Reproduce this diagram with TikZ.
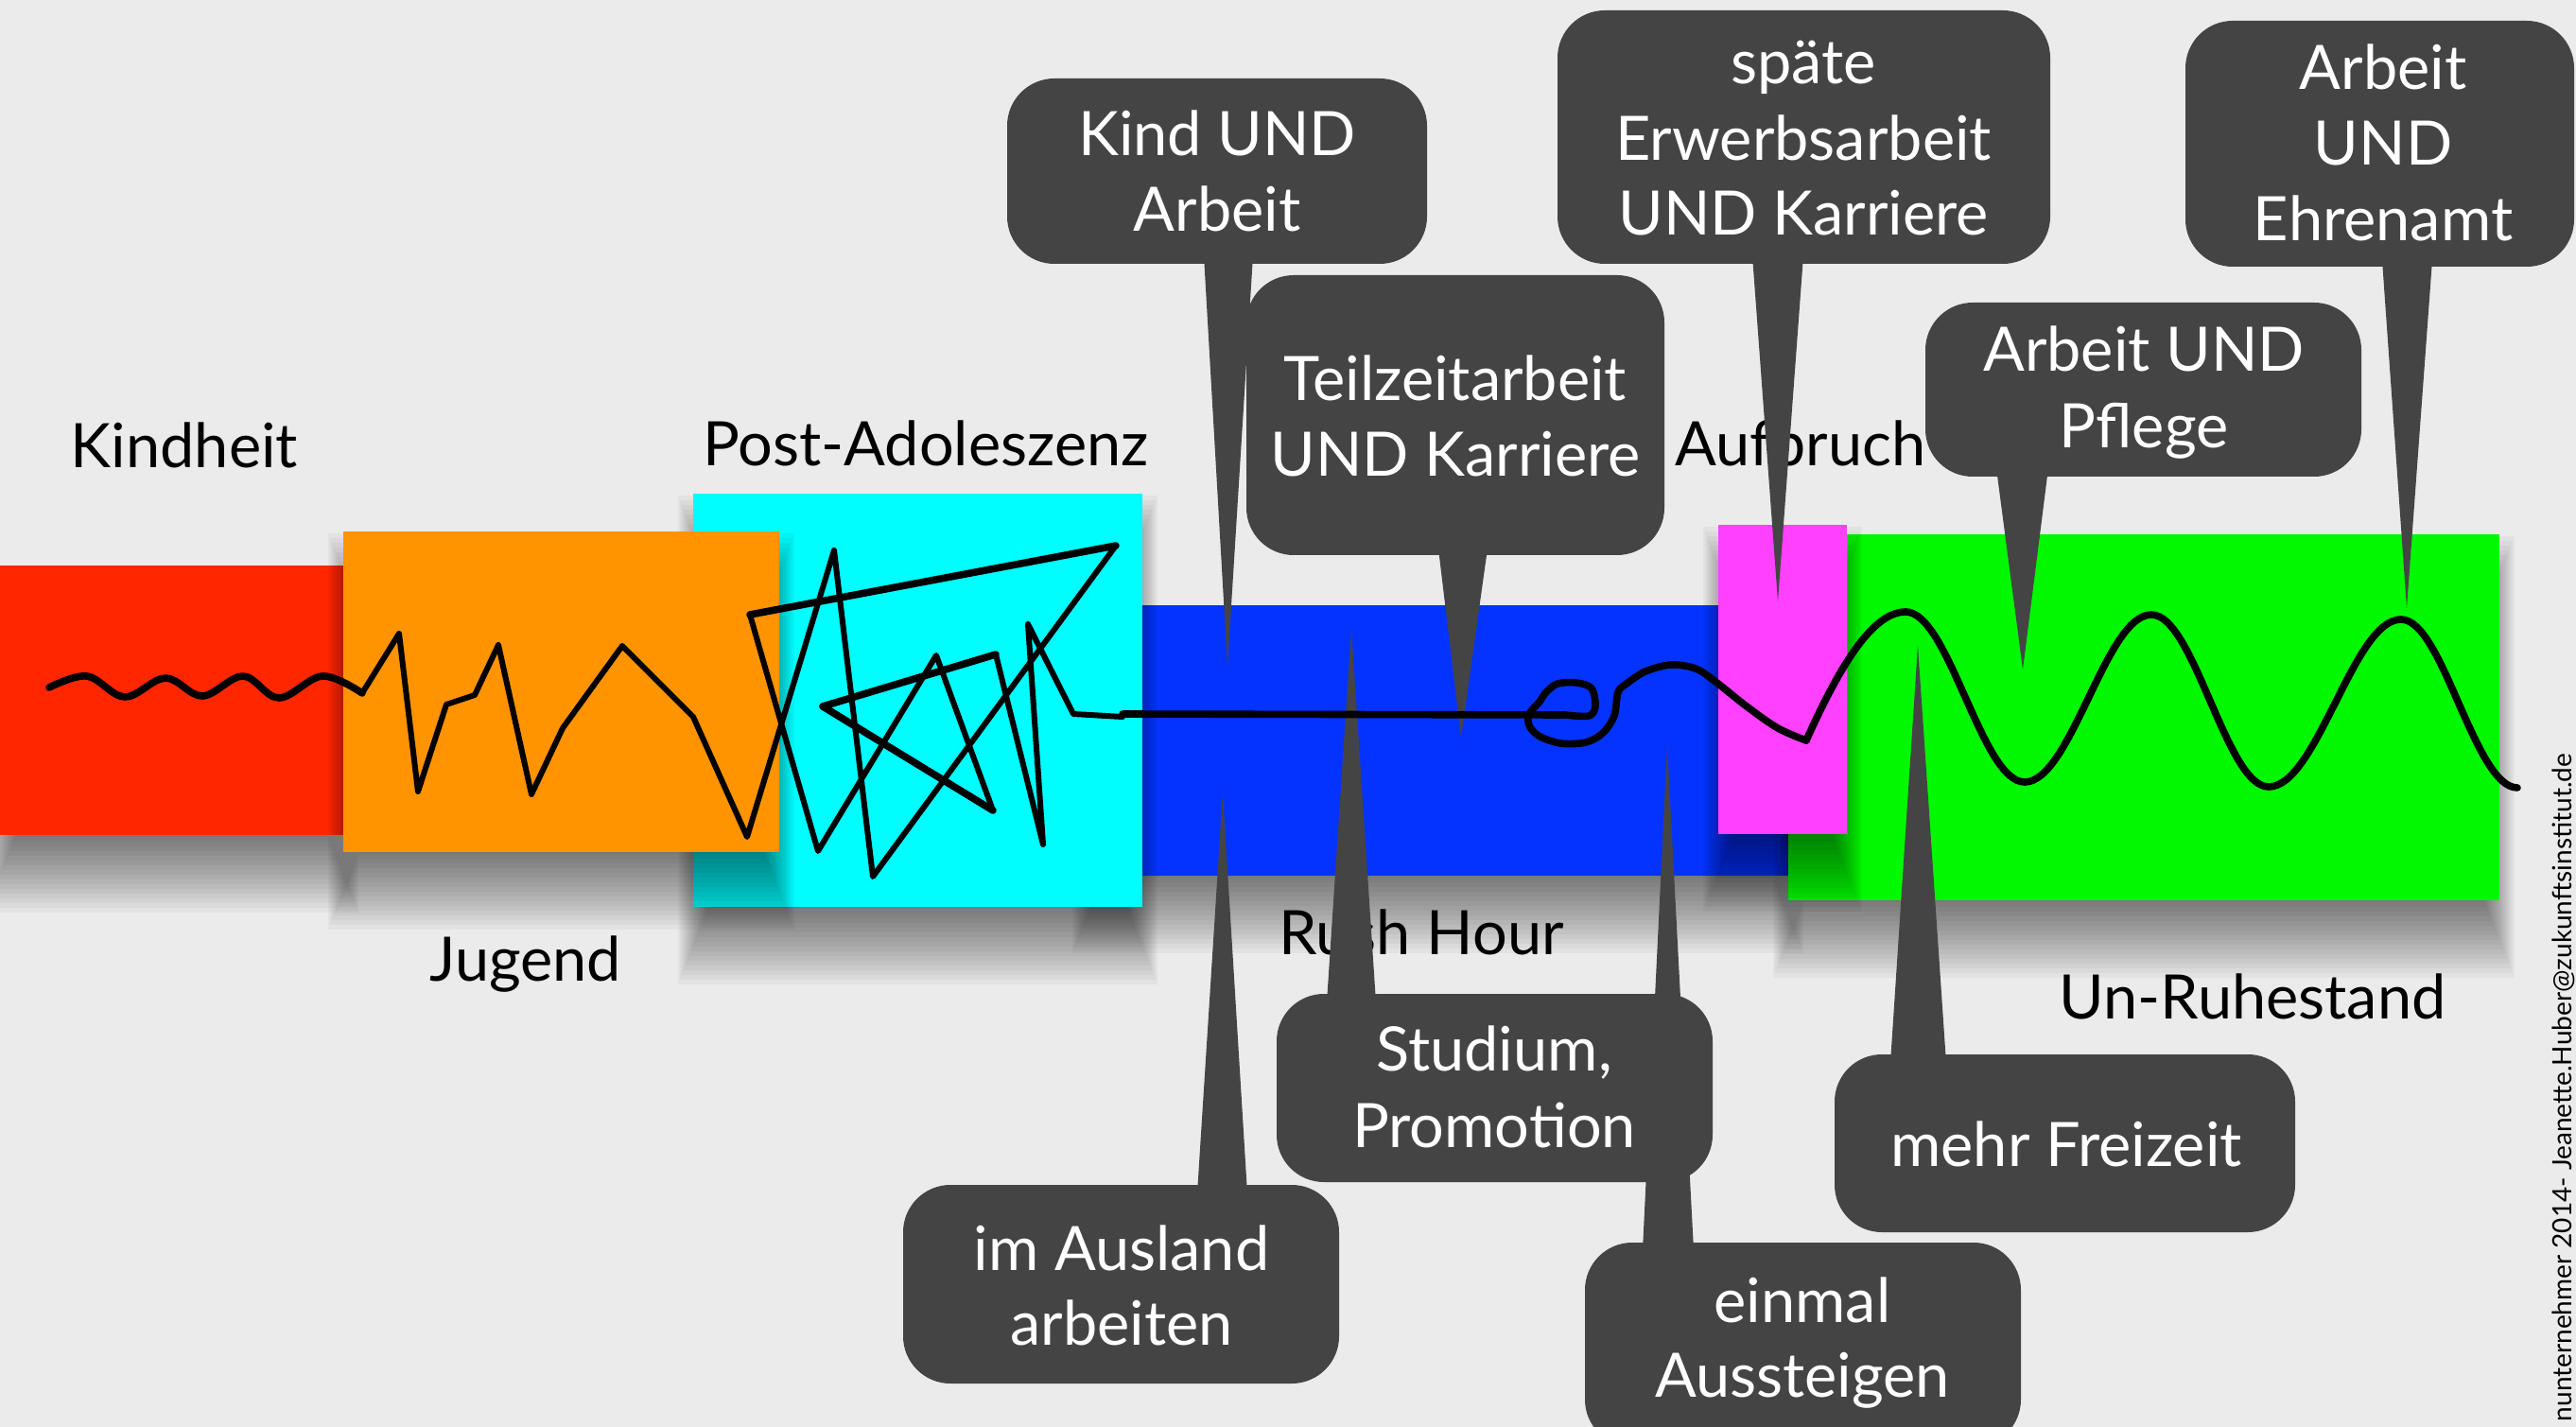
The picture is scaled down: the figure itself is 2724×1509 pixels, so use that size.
\documentclass[tikz,border=0pt]{standalone}
\usepackage{fontspec}
\setmainfont{Lato}
\definecolor{bgc}{HTML}{EBEBEB}
\definecolor{cred}{HTML}{FF2600}
\definecolor{corange}{HTML}{FF9300}
\definecolor{ccyan}{HTML}{00FDFF}
\definecolor{cblue}{HTML}{0433FF}
\definecolor{cpink}{HTML}{FF40FF}
\definecolor{cgreen}{HTML}{00F900}
\definecolor{bubblec}{HTML}{444444}
\tikzset{
 shadowlayer/.style={fill=black, fill opacity=0.036},
 bub/.style={fill=bubblec, rounded corners=12.5pt},
 tailshape/.style={fill=bubblec},
 btxt/.style={text=white, font=\fontsize{16.2}{20}\selectfont, anchor=base, inner sep=0pt},
 ltxt/.style={text=black, font=\fontsize{16.2}{20}\selectfont, anchor=base, inner sep=0pt},
 life/.style={draw=black, line width=1.5pt, line join=round, line cap=round},
 lifethick/.style={draw=black, line width=1.9pt, line join=round, line cap=round},
}
% phase block with a soft drop shadow: #1 colour, (#2,#3) top left, (#4,#5) bottom right
\newcommand{\phaseblock}[5]{%
  \foreach \e in {-40,-35,...,40} {%
    \fill[shadowlayer] ({#2-0.4*\e},{#3-\e+42}) rectangle ({#4+0.4*\e},{#5+\e+42});}
  \fill[#1] (#2,#3) rectangle (#4,#5);}
\begin{document}
\begin{tikzpicture}[x=0.25pt,y=-0.25pt]
\useasboundingbox (0,0) rectangle (2724,1509);
\begin{scope}
\clip (0,0) rectangle (2724,1509);
\fill[bgc] (0,0) rectangle (2724,1509);
% phases
\phaseblock{cblue}{1150}{640}{1891}{926}
\phaseblock{cgreen}{1891}{565}{2643}{952}
\phaseblock{cred}{0}{598}{363}{883}
\phaseblock{ccyan}{733}{522}{1208}{959}
\phaseblock{corange}{363}{562}{824}{901}
\phaseblock{cpink}{1817}{555}{1953}{882}
% phase labels
\node[ltxt] (kindheit) at (195,495) {Kindheit};
\node[ltxt] (jugend) at (556,1037) {Jugend};
\node[ltxt] (postado) at (979,493) {Post-Adoleszenz};
\node[ltxt] (rush) at (1503,1009) {Rush Hour};
\node[ltxt] (aufbruch) at (1904,493) {Aufbruch};
\node[ltxt] (unruhe) at (2382,1077) {Un-Ruhestand};
% callouts: tails
\fill[tailshape] (1273,270) -- (1325,270) -- (1298,705) -- cycle;
\fill[tailshape] (1521,580) -- (1573,580) -- (1545,780) -- cycle;
\fill[tailshape] (1853,270) -- (1907,270) -- (1880,636) -- cycle;
\fill[tailshape] (2519,275) -- (2572,275) -- (2545,643) -- cycle;
\fill[tailshape] (2111,495) -- (2166,495) -- (2139,708) -- cycle;
\fill[tailshape] (1266,1262) -- (1319,1262) -- (1293,838) -- cycle;
\fill[tailshape] (1403,1060) -- (1455,1060) -- (1429,665) -- cycle;
\fill[tailshape] (1737,1322) -- (1791,1322) -- (1763,788) -- cycle;
\fill[tailshape] (1999,1124) -- (2058,1124) -- (2028,683) -- cycle;
% callouts: boxes
\path[bub] (1065,83) rectangle (1509,279);
\path[bub] (1318,291) rectangle (1760,587);
\path[bub] (1647,11) rectangle (2168,279);
\path[bub] (2311,22) rectangle (2722,282);
\path[bub] (2036,320) rectangle (2497,504);
\path[bub] (955,1253) rectangle (1416,1463);
\path[bub] (1350,1051) rectangle (1811,1250);
\path[bub] (1676,1314) rectangle (2137,1530);
\path[bub] (1940,1115) rectangle (2427,1303);
% callout texts
\node[btxt] (kind1) at (1287,165) {Kind UND};
\node[btxt] (kind2) at (1287,245) {Arbeit};
\node[btxt] (teil1) at (1539,424) {Teilzeitarbeit};
\node[btxt] (teil2) at (1539,503) {UND Karriere};
\node[btxt] (spaet1) at (1907,89) {späte};
\node[btxt] (spaet2) at (1907,170) {Erwerbsarbeit};
\node[btxt] (spaet3) at (1907,249) {UND Karriere};
\node[btxt] (ehren1) at (2520,95) {Arbeit};
\node[btxt] (ehren2) at (2520,175) {UND};
\node[btxt] (ehren3) at (2520,255) {Ehrenamt};
\node[btxt] (pfl1) at (2267,393) {Arbeit UND};
\node[btxt] (pfl2) at (2267,473) {Pflege};
\node[btxt] (ausl1) at (1186,1343) {im Ausland};
\node[btxt] (ausl2) at (1186,1422) {arbeiten};
\node[btxt] (stud1) at (1580,1132) {Studium,};
\node[btxt] (stud2) at (1580,1213) {Promotion};
\node[btxt] (einm1) at (1906,1398) {einmal};
\node[btxt] (einm2) at (1906,1477) {Aussteigen};
\node[btxt] (frei) at (2185,1233) {mehr Freizeit};
% the life line
\draw[lifethick] plot[smooth, tension=0.6] coordinates {(52,727) (92,715) (132,737) (175,717) (214,736) (257,715) (295,738) (341,715) (383,733)};
\draw[life] (383,733) -- (422,670) -- (442,837) -- (472,745) -- (502,735) -- (527,682) -- (562,840) -- (595,770) -- (658,683) -- (733,758) -- (790,885) -- (882,582) -- (923,927) -- (1180,577) -- (793,650) -- (865,900) -- (990,693) -- (1050,857) -- (870,747) -- (1053,692) -- (1103,893) -- (1087,660) -- (1135,755) -- (1187,758);
\draw[lifethick] (1180,577) -- (793,650);
\draw[lifethick] (1050,857) -- (870,747) -- (1053,692);
\draw[lifethick] (1187,755) -- (1655,756);
\draw[lifethick] plot[smooth, tension=0.55] coordinates {(1655,756) (1680,757) (1687,747) (1683,728) (1667,722) (1647,723) (1635,732) (1628,742) (1617,755) (1617,767) (1627,778) (1650,786) (1677,785) (1695,775) (1707,757) (1711,732) (1720,723) (1740,710) (1767,703) (1793,707) (1813,720) (1847,747) (1880,770) (1910,783)};
\draw[lifethick] (1910,783) .. controls (1945,705) and (1980,647) .. (2015,647) cos (2078,737) sin (2141,827) cos (2208,739) sin (2275,650) cos (2337,741) sin (2399,832) cos (2469,744) sin (2539,655) cos (2600,744) sin (2662,833);
% credit line
\node[rotate=90, anchor=base west, inner sep=0pt, font=\fontsize{7}{8}\selectfont] (credit) at (2719,1504) {nunternehmer 2014- Jeanette.Huber@zukunftsinstitut.de};
\end{scope}
\end{tikzpicture}
\end{document}
